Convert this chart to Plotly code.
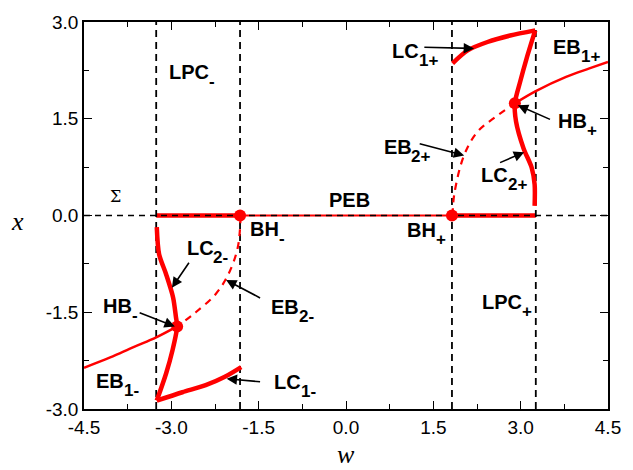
import plotly.graph_objects as go

# ---------------- data ----------------
w_lpc = [-3.26, -1.82, 1.82, 3.26]          # vertical dashed lines (LPC / BH)
x_range = [-3.0, 3.0]
w_range = [-4.5, 4.5]

# PEB (thin, between BH- and BH+) and thick stable segments on x = 0
w_peb = [-1.82, 1.82]
x_peb = [0.0, 0.0]
w_zero_left = [-3.26, -1.82]
w_zero_right = [1.82, 3.26]
x_zero = [0.0, 0.0]

# EB1 branches (thin solid)
w_eb1p = [2.90, 3.26, 3.78, 4.18, 4.50]
x_eb1p = [1.74, 1.93, 2.15, 2.28, 2.38]
w_eb1m = [-4.50, -4.05, -3.65, -3.26, -2.90]
x_eb1m = [-2.36, -2.20, -2.04, -1.89, -1.72]

# EB2 branches (dashed)
w_eb2p = [1.83, 1.86, 2.03, 2.26, 2.54, 2.90]
x_eb2p = [0.00, 0.33, 0.94, 1.30, 1.51, 1.74]
w_eb2m = [-1.81, -1.86, -2.02, -2.24, -2.58, -2.90]
x_eb2m = [-0.01, -0.50, -0.91, -1.22, -1.50, -1.72]

# LC1 branches (thick)
w_lc1p = [1.83, 2.09, 2.43, 2.82, 3.25]
x_lc1p = [2.36, 2.56, 2.69, 2.79, 2.87]
w_lc1m = [-3.25, -2.81, -2.41, -2.08, -1.80]
x_lc1m = [-2.87, -2.74, -2.63, -2.50, -2.35]

# LC2 branches (thick)
w_lc2p = [3.25, 3.10, 2.99, 2.90, 2.92, 3.05, 3.19, 3.24, 3.24]
x_lc2p = [2.87, 2.43, 2.07, 1.74, 1.46, 1.04, 0.74, 0.48, 0.15]
w_lc2m = [-3.25, -3.21, -3.09, -2.97, -2.92, -2.90, -2.98, -3.09, -3.25]
x_lc2m = [-0.18, -0.60, -0.91, -1.27, -1.58, -1.72, -2.09, -2.45, -2.87]

# bifurcation points
w_pts = [-1.82, 1.82, -2.90, 2.90]
x_pts = [0.0, 0.0, -1.72, 1.74]

tick_vals = [-4.5, -3.0, -1.5, 0.0, 1.5, 3.0, 4.5]
tick_text_w = ["-4.5", "-3.0", "-1.5", "0.0", "1.5", "3.0", "4.5"]
ytick_vals = [-3.0, -1.5, 0.0, 1.5, 3.0]
tick_text_x = ["-3.0", "-1.5", "0.0", "1.5", "3.0"]

# labels: (main text, subscript, w, x) left-anchored
labels = [
    ("LPC", "-", -3.08, 2.23),
    ("PEB", "", -0.33, 0.24),
    ("BH", "-", -1.69, -0.21),
    ("BH", "+", 1.02, -0.23),
    ("LC", "1+", 0.76, 2.55),
    ("EB", "1+", 3.52, 2.61),
    ("HB", "+", 3.60, 1.46),
    ("EB", "2+", 0.61, 1.06),
    ("LC", "2+", 2.29, 0.63),
    ("LPC", "+", 2.30, -1.34),
    ("LC", "2-", -2.77, -0.50),
    ("HB", "-", -4.21, -1.41),
    ("EB", "2-", -1.32, -1.42),
    ("EB", "1-", -4.33, -2.56),
    ("LC", "1-", -1.27, -2.58),
]

# arrows: (tail w, tail x, head w, head x)
arrows = [
    (1.32, 2.61, 2.20, 2.59),
    (3.53, 1.48, 2.95, 1.71),
    (1.24, 1.12, 2.03, 0.93),
    (2.62, 0.81, 3.06, 0.98),
    (-2.68, -0.71, -2.99, -1.12),
    (-3.57, -1.50, -2.94, -1.72),
    (-1.45, -1.29, -2.06, -1.00),
    (-1.45, -2.58, -2.05, -2.53),
]

RED = "#ff0000"
fig = go.Figure()

# thick stable zero segments (under black dashes)
for ww in (w_zero_left, w_zero_right):
    fig.add_trace(go.Scatter(x=ww, y=x_zero, mode="lines",
                             line=dict(color=RED, width=4.5), hoverinfo="skip"))
fig.add_trace(go.Scatter(x=w_peb, y=x_peb, mode="lines",
                         line=dict(color=RED, width=2.2), hoverinfo="skip"))

# black dashed reference lines
fig.add_trace(go.Scatter(x=w_range, y=[0.0, 0.0], mode="lines",
                         line=dict(color="black", width=1.6, dash="6px,5px"), hoverinfo="skip"))
for wv in w_lpc:
    fig.add_trace(go.Scatter(x=[wv, wv], y=x_range, mode="lines",
                             line=dict(color="black", width=1.8, dash="7px,5px"), hoverinfo="skip"))

# EB1
for ww, xx in ((w_eb1p, x_eb1p), (w_eb1m, x_eb1m)):
    fig.add_trace(go.Scatter(x=ww, y=xx, mode="lines", line_shape="spline",
                             line=dict(color=RED, width=2.5), hoverinfo="skip"))
# EB2 dashed
for ww, xx in ((w_eb2p, x_eb2p), (w_eb2m, x_eb2m)):
    fig.add_trace(go.Scatter(x=ww, y=xx, mode="lines", line_shape="spline",
                             line=dict(color=RED, width=2.2, dash="7px,6px"), hoverinfo="skip"))
# LC1, LC2 thick
for ww, xx in ((w_lc1p, x_lc1p), (w_lc1m, x_lc1m), (w_lc2p, x_lc2p), (w_lc2m, x_lc2m)):
    fig.add_trace(go.Scatter(x=ww, y=xx, mode="lines", line_shape="spline",
                             line=dict(color=RED, width=4.5, smoothing=0.8), hoverinfo="skip"))

# points
fig.add_trace(go.Scatter(x=w_pts, y=x_pts, mode="markers",
                         marker=dict(color=RED, size=12), hoverinfo="skip"))

# approximate advance widths (em) of Liberation Sans Bold, to place subscripts
EM = {"L": 0.611, "P": 0.667, "C": 0.722, "E": 0.667, "B": 0.722, "H": 0.722}
MAIN_SIZE = 20
SUB_SIZE = 17
PX_PER_W = 532 / 9.0
PX_PER_X = 389 / 6.0
BOLD = dict(family="Liberation Sans, Arial", color="black", weight="bold")

ann = []
for t, s, wv, xv in labels:
    ann.append(dict(text=t, x=wv, y=xv, xref="x", yref="y", xanchor="left", yanchor="middle",
                    showarrow=False, font=dict(size=MAIN_SIZE, **BOLD)))
    if s:
        width_px = sum(EM[c] for c in t) * MAIN_SIZE + 0.5
        ann.append(dict(text=s, x=wv + width_px / PX_PER_W, y=xv - 9.5 / PX_PER_X,
                        xref="x", yref="y", xanchor="left", yanchor="middle",
                        showarrow=False, font=dict(size=SUB_SIZE, **BOLD)))
for tw, tx, hw, hx in arrows:
    ann.append(dict(text="", x=hw, y=hx, ax=tw, ay=tx, xref="x", yref="y", axref="x", ayref="y",
                    showarrow=True, arrowhead=2, arrowsize=1.3, arrowwidth=1.6, arrowcolor="black",
                    standoff=0, startstandoff=0))
ann.append(dict(text="Σ", x=-3.96, y=0.30, xref="x", yref="y", showarrow=False,
                font=dict(family="DejaVu Serif", size=16, color="black")))
ann.append(dict(text="<i>x</i>", x=-0.127, y=0.485, xref="paper", yref="paper",
                xanchor="center", yanchor="middle", showarrow=False,
                font=dict(family="Liberation Serif", size=26, color="black")))
ann.append(dict(text="<i>w</i>", x=0.5, y=-0.118, xref="paper", yref="paper",
                xanchor="center", yanchor="middle", showarrow=False,
                font=dict(family="Liberation Serif", size=26, color="black")))

axis_common = dict(showgrid=False, zeroline=False, showline=True, linecolor="black", linewidth=1.6,
                   mirror="allticks", ticks="inside", ticklen=8, tickwidth=1.4, tickcolor="black",
                   tickfont=dict(family="Liberation Sans, Arial", size=19, color="black"))

fig.update_layout(
    width=633, height=470,
    margin=dict(l=84, r=17, t=20, b=61),
    paper_bgcolor="white", plot_bgcolor="white",
    showlegend=False,
    annotations=ann,
    xaxis=dict(range=w_range, tickvals=tick_vals, ticktext=tick_text_w,
               minor=dict(ticks="inside", ticklen=5, tickwidth=1.2, tickcolor="black",
                          tick0=-4.5, dtick=0.75),
               **axis_common),
    yaxis=dict(range=x_range, tickvals=ytick_vals, ticktext=tick_text_x,
               minor=dict(ticks="inside", ticklen=5, tickwidth=1.2, tickcolor="black",
                          tick0=-3.0, dtick=0.75),
               **axis_common),
)

fig.write_html("out.html")
